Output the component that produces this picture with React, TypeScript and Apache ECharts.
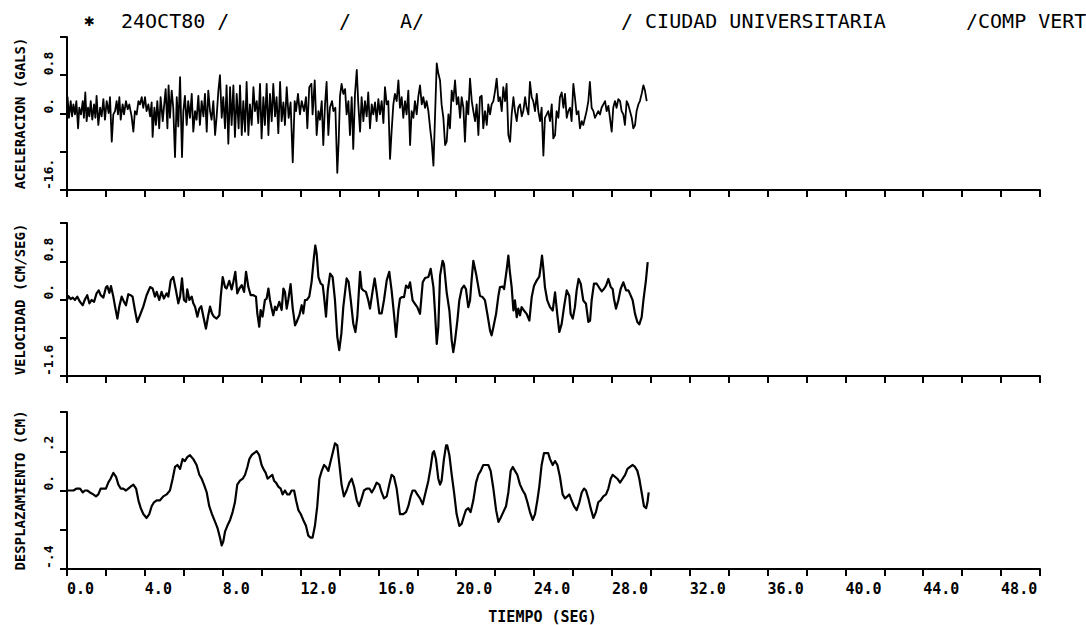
import React, { useEffect, useRef } from 'react';
import * as echarts from 'echarts';

// Record of 24 OCT 80, Ciudad Universitaria, vertical component.
// Each trace is a list of [time (s), value] pairs.

const ACCELERATION: [number, number][] = [
  [0.00,0.01],[0.03,0.34],[0.10,-0.09],[0.19,0.26],[0.26,-0.06],[0.33,0.19],[0.41,-0.02],[0.48,0.26],[0.57,-0.31],[0.63,0.12],
  [0.72,-0.02],[0.81,0.26],[0.87,-0.09],[0.94,0.44],[1.01,-0.16],[1.08,0.12],[1.15,-0.06],[1.22,0.26],[1.30,-0.13],[1.39,0.19],
  [1.46,-0.09],[1.52,0.37],[1.61,-0.24],[1.70,0.12],[1.78,-0.06],[1.87,0.30],[1.95,-0.13],[2.04,0.26],[2.14,0.01],[2.21,0.34],
  [2.30,-0.59],[2.38,-0.02],[2.47,0.05],[2.55,0.26],[2.62,-0.02],[2.69,0.34],[2.76,-0.13],[2.86,0.19],[2.93,-0.02],[3.03,0.26],
  [3.12,0.09],[3.20,0.19],[3.32,-0.06],[3.41,-0.38],[3.49,0.05],[3.58,-0.02],[3.67,0.26],[3.75,0.19],[3.84,0.34],[3.92,0.12],
  [4.01,0.34],[4.09,0.05],[4.18,0.19],[4.27,-0.06],[4.35,0.23],[4.40,-0.49],[4.49,0.12],[4.57,-0.24],[4.64,0.26],[4.74,-0.31],
  [4.81,0.34],[4.92,-0.16],[4.98,0.12],[5.07,0.51],[5.16,-0.31],[5.22,0.59],[5.29,-0.09],[5.38,0.48],[5.46,0.12],[5.55,-0.91],
  [5.64,0.34],[5.72,-0.27],[5.81,0.76],[5.91,-0.91],[5.98,0.05],[6.06,0.37],[6.15,-0.24],[6.23,0.26],[6.32,-0.09],[6.41,0.41],
  [6.49,-0.38],[6.58,0.05],[6.66,-0.13],[6.75,0.37],[6.83,-0.24],[6.92,0.26],[7.01,-0.06],[7.09,0.41],[7.18,-0.38],[7.26,0.48],
  [7.35,0.05],[7.43,-0.13],[7.52,0.26],[7.61,-0.45],[7.69,-0.06],[7.78,0.48],[7.86,0.80],[7.95,-0.09],[8.03,0.34],[8.12,-0.31],
  [8.20,0.59],[8.29,-0.63],[8.38,0.55],[8.46,-0.24],[8.55,0.59],[8.63,-0.49],[8.72,0.41],[8.82,-0.31],[8.89,0.59],[8.98,-0.45],
  [9.06,0.26],[9.15,-0.38],[9.23,0.66],[9.32,-0.45],[9.40,0.19],[9.49,-0.24],[9.58,0.55],[9.66,0.05],[9.75,0.26],[9.83,-0.20],
  [9.92,0.62],[10.00,-0.52],[10.09,0.34],[10.17,-0.24],[10.26,0.62],[10.35,-0.45],[10.43,0.41],[10.52,-0.16],[10.60,0.62],[10.69,-0.06],
  [10.77,0.34],[10.86,-0.41],[10.95,0.66],[11.03,-0.16],[11.12,0.23],[11.20,-0.24],[11.29,0.55],[11.39,-0.09],[11.49,0.23],[11.60,-1.02],
  [11.70,0.26],[11.77,0.05],[11.87,0.41],[11.97,-0.02],[12.06,0.26],[12.18,0.05],[12.28,0.34],[12.35,-0.31],[12.45,0.55],[12.56,0.62],
  [12.62,-0.02],[12.73,0.69],[12.83,-0.45],[12.92,0.05],[13.00,-0.13],[13.09,0.26],[13.17,-0.66],[13.26,0.19],[13.34,0.66],[13.43,-0.45],
  [13.51,0.12],[13.62,0.26],[13.69,0.05],[13.79,0.12],[13.89,-1.24],[13.96,-0.59],[14.03,0.37],[14.11,0.62],[14.20,0.41],[14.29,0.51],
  [14.37,-0.02],[14.46,0.26],[14.54,-0.45],[14.63,0.34],[14.71,-0.74],[14.80,0.41],[14.89,0.91],[14.97,0.19],[15.06,-0.38],[15.14,0.34],
  [15.23,-0.16],[15.31,0.26],[15.40,-0.06],[15.48,0.44],[15.57,-0.31],[15.66,0.19],[15.74,-0.02],[15.83,0.23],[15.91,-0.16],[16.00,0.30],
  [16.08,-0.02],[16.17,0.26],[16.26,-0.20],[16.34,0.55],[16.43,0.19],[16.51,0.26],[16.60,-0.95],[16.68,-0.38],[16.77,0.19],[16.85,0.41],
  [16.94,0.26],[17.03,0.69],[17.11,0.12],[17.20,0.34],[17.28,-0.09],[17.37,0.26],[17.45,-0.02],[17.54,0.48],[17.63,-0.66],[17.71,0.05],
  [17.80,-0.09],[17.88,0.26],[17.97,-0.02],[18.05,0.34],[18.14,0.59],[18.23,0.19],[18.31,0.34],[18.40,0.12],[18.48,0.26],[18.57,0.05],
  [18.66,-0.31],[18.74,-0.59],[18.83,-1.09],[18.91,-0.09],[19.00,1.05],[19.08,0.84],[19.17,0.69],[19.25,0.19],[19.34,-0.09],[19.43,-0.66],
  [19.51,-0.59],[19.60,-0.02],[19.68,-0.31],[19.77,0.48],[19.85,0.26],[19.94,0.69],[20.03,0.19],[20.11,0.34],[20.20,-0.09],[20.28,0.34],
  [20.37,0.12],[20.45,-0.59],[20.54,0.26],[20.62,-0.02],[20.71,0.73],[20.80,0.26],[20.88,0.05],[20.97,-0.16],[21.05,0.19],[21.14,-0.45],
  [21.22,0.34],[21.31,0.37],[21.39,-0.31],[21.48,0.05],[21.57,-0.24],[21.65,0.19],[21.74,-0.02],[21.82,0.19],[21.91,0.26],[22.00,0.48],
  [22.08,0.73],[22.17,0.26],[22.25,0.34],[22.34,0.05],[22.42,0.55],[22.51,0.26],[22.59,0.62],[22.68,-0.45],[22.77,-0.59],[22.85,-0.02],
  [22.94,0.34],[23.02,0.05],[23.11,-0.16],[23.19,0.12],[23.28,0.19],[23.37,-0.06],[23.45,0.05],[23.54,0.34],[23.62,0.12],[23.71,-0.02],
  [23.79,0.66],[23.88,0.34],[23.96,0.26],[24.05,0.05],[24.14,0.41],[24.22,0.05],[24.31,-0.16],[24.39,0.12],[24.48,-0.88],[24.56,-0.09],
  [24.65,-0.02],[24.73,0.05],[24.82,-0.16],[24.91,0.19],[24.99,-0.52],[25.08,-0.45],[25.16,0.05],[25.25,-0.09],[25.33,0.34],[25.42,0.44],
  [25.51,0.12],[25.59,0.41],[25.68,-0.09],[25.76,0.05],[25.85,0.12],[25.93,-0.16],[26.02,0.62],[26.10,0.34],[26.19,-0.02],[26.28,0.05],
  [26.36,-0.31],[26.45,-0.16],[26.53,-0.24],[26.62,-0.09],[26.70,0.05],[26.79,0.26],[26.87,0.66],[26.96,0.12],[27.05,0.05],[27.13,-0.09],
  [27.22,-0.02],[27.30,0.05],[27.39,-0.02],[27.47,0.12],[27.56,0.19],[27.65,0.26],[27.73,0.05],[27.82,0.16],[27.90,-0.09],[27.99,-0.38],
  [28.07,0.12],[28.16,0.26],[28.24,0.12],[28.33,0.30],[28.42,0.26],[28.50,0.05],[28.59,-0.02],[28.67,-0.24],[28.76,0.26],[28.84,0.19],
  [28.93,0.05],[29.02,-0.09],[29.10,-0.31],[29.19,-0.24],[29.27,0.05],[29.36,0.19],[29.44,0.26],[29.53,0.41],[29.62,0.59],[29.70,0.48],
  [29.79,0.26],
];

const VELOCITY: [number, number][] = [
  [0.00,-0.01],[0.07,0.07],[0.19,0.01],[0.29,0.04],[0.41,-0.01],[0.53,0.06],[0.67,-0.05],[0.81,-0.12],[0.92,0.00],[1.04,0.09],
  [1.15,-0.08],[1.27,-0.01],[1.39,-0.05],[1.52,0.13],[1.63,0.19],[1.73,0.09],[1.87,0.04],[2.00,0.25],[2.07,0.28],[2.18,0.14],
  [2.26,0.28],[2.38,0.06],[2.47,-0.15],[2.59,-0.40],[2.69,-0.14],[2.81,0.06],[2.93,-0.05],[3.03,-0.12],[3.15,0.11],[3.27,0.09],
  [3.37,0.06],[3.49,-0.22],[3.61,-0.47],[3.75,-0.33],[3.92,-0.15],[4.09,0.09],[4.27,0.26],[4.40,0.23],[4.52,0.06],[4.61,0.16],
  [4.74,-0.01],[4.86,0.16],[4.98,0.02],[5.12,0.13],[5.21,0.06],[5.33,0.40],[5.46,0.47],[5.60,0.19],[5.72,-0.08],[5.81,0.06],
  [5.91,0.44],[6.01,-0.01],[6.12,-0.05],[6.18,0.21],[6.29,-0.01],[6.41,0.06],[6.49,-0.08],[6.58,-0.15],[6.70,-0.36],[6.80,-0.19],
  [6.90,-0.14],[7.01,-0.36],[7.14,-0.61],[7.26,-0.33],[7.35,-0.15],[7.45,-0.29],[7.55,-0.36],[7.69,-0.40],[7.83,-0.33],[7.90,0.06],
  [8.00,0.47],[8.12,0.26],[8.20,0.23],[8.34,0.39],[8.46,0.21],[8.55,0.37],[8.65,0.58],[8.75,0.13],[8.86,0.23],[8.98,0.30],
  [9.10,0.16],[9.20,0.58],[9.32,0.26],[9.44,0.09],[9.58,0.09],[9.71,0.06],[9.78,-0.29],[9.88,-0.57],[9.95,-0.22],[10.05,-0.36],
  [10.17,-0.01],[10.26,0.02],[10.35,0.23],[10.43,-0.01],[10.52,-0.19],[10.60,-0.33],[10.69,-0.15],[10.77,-0.22],[10.91,-0.05],[11.03,-0.22],
  [11.12,0.23],[11.20,0.16],[11.29,-0.19],[11.37,-0.01],[11.49,0.32],[11.60,-0.19],[11.72,-0.54],[11.80,-0.47],[11.94,-0.33],[12.06,-0.12],
  [12.14,-0.29],[12.23,-0.01],[12.32,-0.01],[12.45,0.06],[12.57,0.37],[12.69,0.89],[12.76,1.13],[12.83,0.96],[12.92,0.47],[13.04,0.33],
  [13.14,0.30],[13.21,0.06],[13.31,-0.36],[13.40,0.19],[13.52,0.54],[13.65,0.47],[13.77,-0.01],[13.89,-0.78],[13.99,-1.06],[14.10,-0.71],
  [14.20,-0.15],[14.37,0.44],[14.47,0.37],[14.58,-0.01],[14.71,-0.50],[14.82,-0.68],[14.92,-0.36],[15.06,0.58],[15.14,0.23],[15.23,0.19],
  [15.36,0.16],[15.48,-0.01],[15.57,-0.19],[15.71,0.19],[15.81,0.44],[15.91,0.16],[16.05,-0.29],[16.17,-0.29],[16.29,-0.01],[16.43,0.40],
  [16.56,0.58],[16.68,0.19],[16.80,-0.29],[16.91,-0.78],[17.03,-0.22],[17.11,0.02],[17.20,0.05],[17.32,0.05],[17.42,0.29],[17.54,0.24],
  [17.63,0.36],[17.76,-0.02],[17.88,-0.09],[18.00,-0.16],[18.14,-0.30],[18.28,0.36],[18.40,0.45],[18.57,0.47],[18.69,0.64],[18.83,0.26],
  [18.91,-0.26],[19.00,-0.93],[19.08,-0.58],[19.17,0.50],[19.30,0.81],[19.37,0.74],[19.51,0.15],[19.65,-0.23],[19.77,-0.86],[19.85,-1.10],
  [19.94,-0.86],[20.06,-0.44],[20.16,-0.02],[20.28,0.22],[20.40,0.29],[20.50,0.22],[20.62,-0.16],[20.71,-0.02],[20.79,0.40],[20.88,0.81],
  [21.02,0.54],[21.14,0.26],[21.22,0.08],[21.36,0.05],[21.48,-0.02],[21.60,-0.30],[21.74,-0.65],[21.82,-0.75],[21.91,-0.58],[22.05,-0.30],
  [22.17,0.08],[22.25,0.26],[22.39,0.27],[22.46,0.22],[22.59,0.61],[22.68,0.92],[22.76,0.57],[22.85,0.26],[22.94,-0.23],[23.02,-0.02],
  [23.11,-0.37],[23.19,-0.19],[23.28,-0.33],[23.36,-0.16],[23.48,-0.23],[23.62,-0.30],[23.76,-0.44],[23.88,0.05],[24.00,0.29],[24.14,0.40],
  [24.27,0.48],[24.34,0.68],[24.41,0.92],[24.48,0.64],[24.56,0.26],[24.68,-0.02],[24.82,-0.16],[24.96,-0.23],[25.08,0.15],[25.20,-0.33],
  [25.30,-0.68],[25.42,-0.51],[25.54,-0.16],[25.68,0.19],[25.81,0.08],[25.88,-0.30],[25.99,-0.40],[26.10,-0.16],[26.19,0.19],[26.29,0.43],
  [26.40,0.33],[26.53,-0.02],[26.67,-0.09],[26.79,-0.47],[26.88,-0.44],[26.96,-0.02],[27.08,0.33],[27.22,0.33],[27.36,0.24],[27.48,0.17],
  [27.59,0.22],[27.70,0.29],[27.82,0.43],[27.94,0.26],[28.04,0.22],[28.11,0.01],[28.21,-0.19],[28.33,-0.02],[28.45,0.22],[28.59,0.36],
  [28.73,0.19],[28.85,0.19],[28.97,0.08],[29.07,-0.02],[29.19,-0.30],[29.31,-0.47],[29.41,-0.52],[29.53,-0.37],[29.62,-0.02],[29.75,0.40],
  [29.84,0.78],
];

const DISPLACEMENT: [number, number][] = [
  [0.00,0.00],[0.15,0.00],[0.33,0.00],[0.50,0.01],[0.67,0.01],[0.81,-0.01],[0.92,0.00],[1.04,0.00],[1.18,-0.01],[1.35,-0.02],
  [1.49,-0.03],[1.61,-0.02],[1.73,0.01],[1.87,0.01],[2.00,0.01],[2.12,0.04],[2.24,0.06],[2.38,0.09],[2.52,0.07],[2.64,0.03],
  [2.76,0.01],[2.89,0.01],[3.03,0.00],[3.15,0.01],[3.27,0.02],[3.41,0.03],[3.55,0.01],[3.67,-0.05],[3.79,-0.09],[3.92,-0.12],
  [4.09,-0.14],[4.23,-0.12],[4.35,-0.08],[4.47,-0.06],[4.61,-0.05],[4.78,-0.05],[4.95,-0.03],[5.12,-0.02],[5.29,0.00],[5.43,0.06],
  [5.55,0.12],[5.67,0.13],[5.81,0.11],[5.94,0.16],[6.06,0.15],[6.18,0.17],[6.32,0.18],[6.49,0.16],[6.66,0.13],[6.80,0.08],
  [6.92,0.06],[7.04,0.03],[7.18,-0.01],[7.31,-0.08],[7.45,-0.12],[7.61,-0.16],[7.73,-0.19],[7.86,-0.24],[7.95,-0.28],[8.03,-0.26],
  [8.12,-0.21],[8.24,-0.18],[8.38,-0.15],[8.51,-0.11],[8.63,-0.06],[8.75,0.03],[8.89,0.05],[9.03,0.06],[9.15,0.08],[9.27,0.12],
  [9.37,0.16],[9.49,0.18],[9.61,0.19],[9.75,0.20],[9.88,0.18],[10.00,0.13],[10.09,0.11],[10.21,0.09],[10.31,0.06],[10.43,0.07],
  [10.55,0.08],[10.64,0.05],[10.74,0.04],[10.86,0.02],[10.98,0.01],[11.08,-0.02],[11.20,0.00],[11.32,-0.02],[11.43,-0.02],[11.54,0.00],
  [11.67,0.00],[11.77,-0.05],[11.89,-0.10],[12.01,-0.12],[12.14,-0.15],[12.28,-0.18],[12.40,-0.23],[12.52,-0.24],[12.62,-0.24],[12.74,-0.18],
  [12.86,-0.08],[12.97,0.06],[13.09,0.10],[13.21,0.13],[13.31,0.12],[13.43,0.10],[13.55,0.15],[13.65,0.19],[13.77,0.24],[13.89,0.23],
  [13.99,0.14],[14.11,0.03],[14.23,-0.03],[14.37,0.00],[14.51,0.04],[14.63,0.06],[14.75,0.02],[14.89,-0.05],[15.01,-0.08],[15.14,-0.04],
  [15.26,0.00],[15.40,0.01],[15.54,0.01],[15.66,-0.01],[15.78,0.01],[15.91,0.04],[16.05,0.03],[16.17,-0.01],[16.29,-0.04],[16.43,-0.03],
  [16.56,0.03],[16.68,0.08],[16.80,0.07],[16.94,0.01],[17.11,-0.12],[17.28,-0.12],[17.42,-0.11],[17.54,-0.08],[17.66,-0.03],[17.76,0.00],
  [17.88,0.00],[18.00,-0.02],[18.14,-0.04],[18.28,-0.07],[18.40,-0.02],[18.57,0.05],[18.69,0.12],[18.79,0.19],[18.86,0.20],[18.96,0.16],
  [19.08,0.06],[19.17,0.03],[19.25,0.05],[19.37,0.16],[19.48,0.23],[19.54,0.23],[19.65,0.18],[19.77,0.08],[19.89,-0.01],[20.02,-0.12],
  [20.16,-0.18],[20.28,-0.17],[20.40,-0.13],[20.50,-0.10],[20.62,-0.09],[20.74,-0.11],[20.88,-0.05],[21.02,0.04],[21.14,0.08],[21.26,0.10],
  [21.39,0.13],[21.53,0.13],[21.65,0.13],[21.77,0.10],[21.91,0.01],[22.05,-0.10],[22.17,-0.16],[22.28,-0.14],[22.42,-0.11],[22.56,-0.08],
  [22.68,-0.01],[22.80,0.10],[22.91,0.12],[23.02,0.10],[23.14,0.08],[23.28,0.03],[23.42,0.00],[23.54,-0.02],[23.66,-0.06],[23.79,-0.11],
  [23.93,-0.15],[24.05,-0.12],[24.17,-0.05],[24.27,0.02],[24.39,0.13],[24.51,0.19],[24.62,0.19],[24.73,0.19],[24.82,0.16],[24.96,0.13],
  [25.08,0.15],[25.20,0.13],[25.33,0.07],[25.47,-0.02],[25.59,-0.04],[25.71,-0.03],[25.81,-0.02],[25.93,-0.05],[26.05,-0.08],[26.19,-0.10],
  [26.33,-0.06],[26.45,-0.01],[26.57,0.01],[26.67,0.00],[26.79,-0.04],[26.91,-0.09],[27.05,-0.14],[27.18,-0.11],[27.30,-0.06],[27.42,-0.05],
  [27.56,-0.03],[27.70,-0.02],[27.82,0.01],[27.94,0.06],[28.04,0.08],[28.16,0.07],[28.28,0.06],[28.42,0.04],[28.55,0.06],[28.68,0.08],
  [28.80,0.11],[28.93,0.12],[29.07,0.13],[29.19,0.12],[29.31,0.10],[29.41,0.06],[29.53,-0.01],[29.65,-0.08],[29.76,-0.09],[29.83,-0.06],
  [29.89,-0.01],
];

// Time axis: 0–50 s, a tick every 2 s, a label every 4 s.
const TIME_MAX = 50;
const TIME_TICK = 2;
const X_TICK_LABELS = ['0.0', '4.0', '8.0', '12.0', '16.0', '20.0', '24.0', '28.0', '32.0', '36.0', '40.0', '44.0', '48.0'];
const X_AXIS_NAME = 'TIEMPO (SEG)';

type TickLabel = { value: number; text: string };
const ACC_TICK_LABELS: TickLabel[] = [{ value: 0.8, text: '0.8' }, { value: 0, text: '0.' }, { value: -1.6, text: '-16.' }];
const VEL_TICK_LABELS: TickLabel[] = [{ value: 0.8, text: '0.8' }, { value: 0, text: '0.' }, { value: -1.6, text: '-1.6' }];
const DIS_TICK_LABELS: TickLabel[] = [{ value: 0.2, text: '.2' }, { value: 0, text: '0.' }, { value: -0.4, text: '-.4' }];

const HEADER_TEXTS = ['24OCT80 /', '/', 'A/', '/ CIUDAD UNIVERSITARIA', '/COMP VERT'];
const HEADER_X = [121, 339, 400, 621, 966];
const HEADER_MARK = '✱';

const MONO = '"DejaVu Sans Mono", "Liberation Mono", monospace';
const INK = '#000';

const PANELS = [
  { name: 'ACELERACION (GALS)', data: ACCELERATION, min: -1.6, max: 1.6, step: 0.8, labels: ACC_TICK_LABELS, top: 37, height: 153, width: 1.8 },
  { name: 'VELOCIDAD (CM/SEG)', data: VELOCITY, min: -1.6, max: 1.6, step: 0.8, labels: VEL_TICK_LABELS, top: 223, height: 153, width: 2.2 },
  { name: 'DESPLAZAMIENTO (CM)', data: DISPLACEMENT, min: -0.4, max: 0.4, step: 0.2, labels: DIS_TICK_LABELS, top: 412, height: 159, width: 2.2 },
];

const GRID_LEFT = 67;
const GRID_RIGHT = 46;

function tickText(list: TickLabel[]) {
  return (v: number) => {
    const hit = list.find((l) => Math.abs(l.value - v) < 1e-6);
    return hit ? hit.text : '';
  };
}

function timeLabel(v: number) {
  const k = Math.round(v / 4);
  if (Math.abs(v - k * 4) > 1e-6) return '';
  return X_TICK_LABELS[k] ?? '';
}

export default function App() {
  const ref = useRef<HTMLDivElement>(null);

  useEffect(() => {
    if (!ref.current) return;
    const chart = echarts.init(ref.current, undefined, { renderer: 'svg' });
    const last = PANELS.length - 1;

    const option: any = {
      animation: false,
      backgroundColor: '#fff',
      grid: PANELS.map((p) => ({ left: GRID_LEFT, right: GRID_RIGHT, top: p.top, height: p.height })),
      xAxis: PANELS.map((p, i) => ({
        type: 'value',
        gridIndex: i,
        min: 0,
        max: TIME_MAX,
        interval: TIME_TICK,
        axisLine: { show: true, onZero: false, lineStyle: { color: INK, width: 2 } },
        axisTick: { show: true, length: 7, lineStyle: { color: INK, width: 2 } },
        axisLabel: {
          show: i === last,
          formatter: timeLabel,
          align: 'left',
          margin: 12,
          color: INK,
          fontFamily: MONO,
          fontSize: 15,
          fontWeight: 'bold',
        },
        splitLine: { show: false },
        name: i === last ? X_AXIS_NAME : '',
        nameLocation: 'middle',
        nameGap: 40,
        nameTextStyle: { color: INK, fontFamily: MONO, fontSize: 15, fontWeight: 'bold', padding: [0, 22, 0, 0] },
      })),
      yAxis: PANELS.map((p, i) => ({
        type: 'value',
        gridIndex: i,
        min: p.min,
        max: p.max,
        interval: p.step,
        axisLine: { show: true, onZero: false, lineStyle: { color: INK, width: 2 } },
        axisTick: { show: true, length: 7, lineStyle: { color: INK, width: 2 } },
        axisLabel: {
          rotate: 90,
          align: 'left',
          margin: 12,
          formatter: tickText(p.labels),
          color: INK,
          fontFamily: MONO,
          fontSize: 13,
          fontWeight: 'bold',
        },
        splitLine: { show: false },
        name: p.name,
        nameLocation: 'middle',
        nameRotate: 90,
        nameGap: 40,
        nameTextStyle: { color: INK, fontFamily: MONO, fontSize: 14, fontWeight: 'bold' },
      })),
      series: PANELS.map((p, i) => ({
        type: 'line',
        xAxisIndex: i,
        yAxisIndex: i,
        data: p.data,
        showSymbol: false,
        symbol: 'none',
        silent: true,
        lineStyle: { color: INK, width: p.width, join: 'round' },
      })),
      graphic: [
        { type: 'text', x: 84, y: 21, style: { text: HEADER_MARK, font: 'bold 13px "DejaVu Sans"', fill: INK, verticalAlign: 'middle' } },
        ...HEADER_TEXTS.map((t, i) => ({
          type: 'text',
          x: HEADER_X[i],
          y: 21,
          style: { text: t, font: `20px ${MONO}`, fill: INK, verticalAlign: 'middle' },
        })),
      ],
    };

    chart.setOption(option);
    return () => chart.dispose();
  }, []);

  return (
    <div
      ref={ref}
      style={{ position: 'absolute', left: 0, top: 0, width: 1086, height: 625, background: '#fff' }}
    />
  );
}
